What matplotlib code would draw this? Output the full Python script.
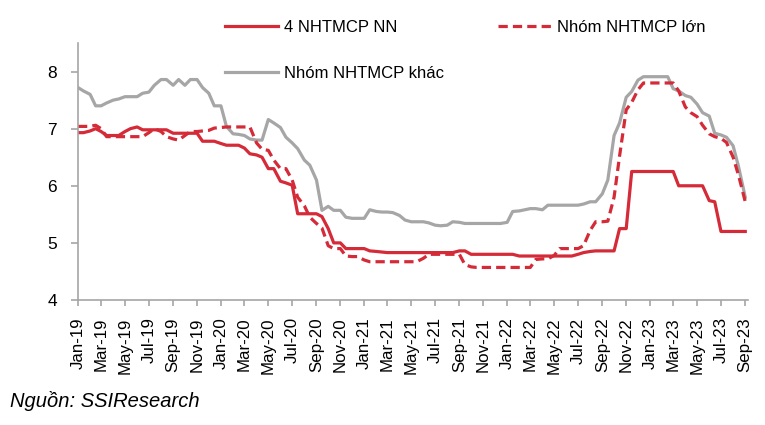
import numpy as np
import pandas as pd
import matplotlib
matplotlib.use("Agg")
import matplotlib.pyplot as plt
import matplotlib.dates as mdates

plt.rcParams['font.family'] = ['Liberation Sans', 'DejaVu Sans']

# semi-monthly readings, Jan-2019 .. Sep-2023
dates = pd.date_range('2019-01-01', periods=113, freq='SMS')

nn_4 = [6.93, 6.93, 6.96, 7.00, 6.95, 6.88, 6.88, 6.88, 6.95, 7.00,
        7.03, 6.98, 6.98, 6.98, 6.98, 6.98, 6.92, 6.92, 6.92, 6.92,
        6.92, 6.78, 6.78, 6.78, 6.74, 6.71, 6.71, 6.71, 6.66, 6.56,
        6.54, 6.50, 6.30, 6.30, 6.08, 6.05, 6.01, 5.51, 5.51, 5.51,
        5.51, 5.46, 5.25, 5.00, 5.00, 4.90, 4.90, 4.90, 4.90, 4.86,
        4.85, 4.84, 4.83, 4.83, 4.83, 4.83, 4.83, 4.83, 4.83, 4.83,
        4.83, 4.83, 4.83, 4.83, 4.86, 4.86, 4.80, 4.80, 4.80, 4.80,
        4.80, 4.80, 4.80, 4.80, 4.77, 4.77, 4.77, 4.77, 4.77, 4.77,
        4.77, 4.77, 4.77, 4.77, 4.80, 4.83, 4.85, 4.86, 4.86, 4.86,
        4.86, 5.25, 5.25, 6.25, 6.25, 6.25, 6.25, 6.25, 6.25, 6.25,
        6.25, 6.00, 6.00, 6.00, 6.00, 6.00, 5.74, 5.72, 5.20, 5.20,
        5.20, 5.20, 5.20]

big = [7.04, 7.04, 7.04, 7.06, 7.00, 6.86, 6.86, 6.86, 6.86, 6.86,
       6.86, 6.86, 6.93, 7.00, 6.95, 6.86, 6.82, 6.80, 6.88, 6.95,
       6.95, 6.96, 6.97, 7.01, 7.02, 7.03, 7.03, 7.03, 7.03, 7.03,
       6.75, 6.64, 6.62, 6.45, 6.30, 6.30, 6.10, 5.80, 5.65, 5.45,
       5.34, 5.26, 4.95, 4.90, 4.90, 4.77, 4.76, 4.76, 4.70, 4.67,
       4.67, 4.67, 4.67, 4.67, 4.67, 4.67, 4.67, 4.67, 4.73, 4.80,
       4.80, 4.80, 4.80, 4.80, 4.80, 4.62, 4.58, 4.57, 4.57, 4.57,
       4.57, 4.57, 4.57, 4.57, 4.57, 4.57, 4.57, 4.71, 4.72, 4.72,
       4.78, 4.90, 4.90, 4.90, 4.90, 4.95, 5.22, 5.37, 5.37, 5.38,
       5.80, 6.52, 7.33, 7.46, 7.68, 7.80, 7.80, 7.80, 7.80, 7.80,
       7.80, 7.66, 7.38, 7.28, 7.21, 7.06, 6.91, 6.86, 6.83, 6.76,
       6.50, 6.18, 5.72]

other = [7.72, 7.66, 7.60, 7.40, 7.40, 7.45, 7.50, 7.52, 7.56, 7.56,
         7.56, 7.62, 7.64, 7.76, 7.86, 7.86, 7.76, 7.86, 7.76, 7.86,
         7.86, 7.72, 7.62, 7.40, 7.40, 7.04, 6.91, 6.90, 6.88, 6.82,
         6.80, 6.80, 7.16, 7.10, 7.02, 6.85, 6.75, 6.65, 6.45, 6.36,
         6.10, 5.57, 5.64, 5.57, 5.57, 5.45, 5.43, 5.43, 5.43, 5.58,
         5.55, 5.54, 5.54, 5.53, 5.48, 5.40, 5.37, 5.37, 5.37, 5.35,
         5.31, 5.30, 5.31, 5.37, 5.36, 5.34, 5.34, 5.34, 5.34, 5.34,
         5.34, 5.34, 5.36, 5.55, 5.56, 5.58, 5.60, 5.60, 5.58, 5.66,
         5.66, 5.66, 5.66, 5.66, 5.66, 5.68, 5.72, 5.72, 5.86, 6.10,
         6.88, 7.10, 7.55, 7.65, 7.85, 7.91, 7.91, 7.91, 7.91, 7.91,
         7.70, 7.66, 7.58, 7.55, 7.43, 7.28, 7.22, 6.92, 6.89, 6.85,
         6.70, 6.33, 5.80]

RED = '#D52A38'
GREY = '#A6A6A6'
AXIS = '#A6A6A6'

fig = plt.figure(figsize=(7.65, 4.25), dpi=100)
ax = fig.add_axes([78/765, 1-300/425, (748-78)/765, (300-43)/425])

l1, = ax.plot(dates, nn_4, color=RED, lw=2.3, label='4 NHTMCP NN')
l2, = ax.plot(dates, other, color=GREY, lw=2.3, label='Nhóm NHTMCP khác')
l3, = ax.plot(dates, big, color=RED, lw=2.3, ls=(0, (2.9, 1.6)),
              label='Nhóm NHTMCP lớn')

ax.set_ylim(4, 8.5)
ax.set_yticks([4, 5, 6, 7, 8])
ax.set_xlim(pd.Timestamp('2019-01-01'), pd.Timestamp('2023-09-08'))
ax.xaxis.set_major_locator(mdates.MonthLocator(bymonth=[1, 3, 5, 7, 9, 11]))
ax.xaxis.set_major_formatter(mdates.DateFormatter('%b-%y'))

for s in ['top', 'right']:
    ax.spines[s].set_visible(False)
for s in ['left', 'bottom']:
    ax.spines[s].set_color(AXIS)
    ax.spines[s].set_linewidth(1.2)

ax.tick_params(axis='y', length=5, width=1.2, color=AXIS, labelsize=12.5, pad=10)
ax.tick_params(axis='x', length=4.5, width=1.2, color=AXIS, labelsize=12.2,
               pad=8, labelrotation=90)

fig.legend([l1, l2, l3], [l1.get_label(), l2.get_label(), l3.get_label()],
           loc='upper left', bbox_to_anchor=(225/765, 1-20/425), ncol=2,
           frameon=False, fontsize=12, handlelength=3.2, handletextpad=0.35,
           columnspacing=3.2, labelspacing=1.85, borderpad=0, borderaxespad=0)

fig.text(10/765, 1-401/425, 'Nguồn: SSIResearch', fontsize=14.5,
         style='italic', va='center', ha='left')

fig.savefig('out.png', dpi=100)
